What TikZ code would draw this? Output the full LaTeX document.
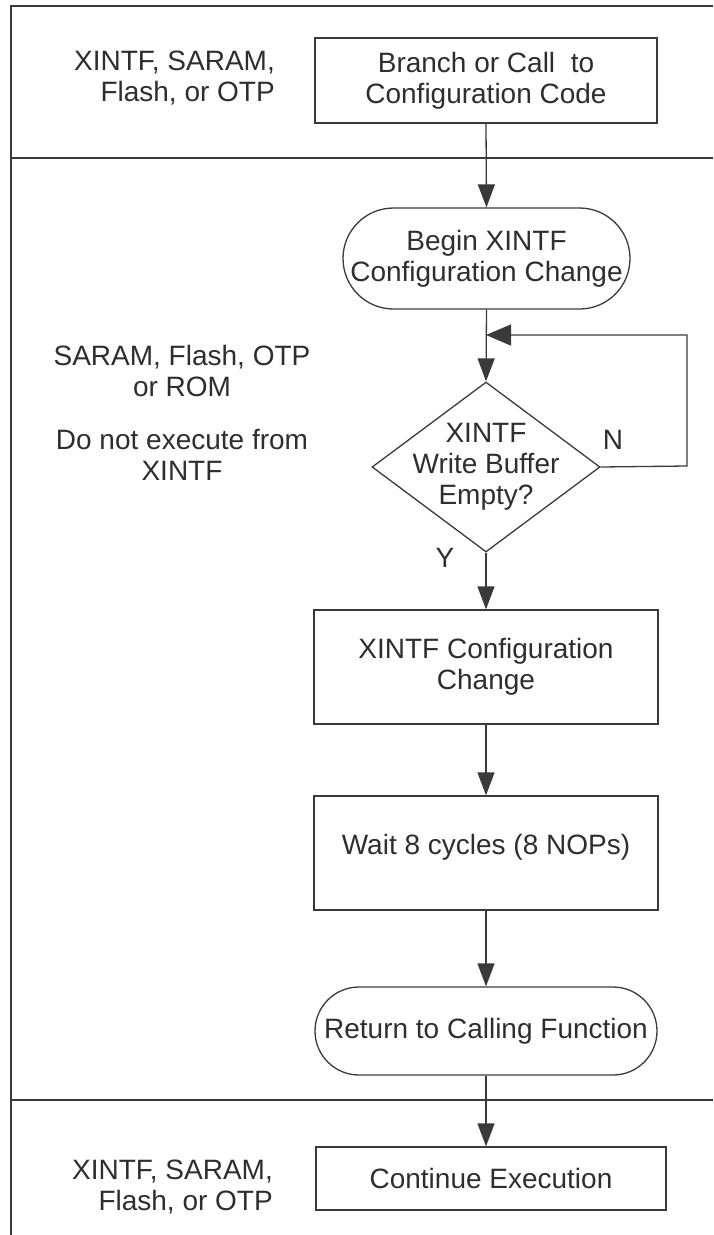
\documentclass[tikz,border=0pt]{standalone}
\usepackage{fontspec}
\setmainfont{Liberation Sans}
\usetikzlibrary{arrows.meta,shapes.geometric}
\definecolor{ln}{HTML}{3A3A3A}
\definecolor{tx}{HTML}{2E2E2E}
\tikzset{
  txt/.style={font=\fontsize{28}{31}\selectfont, text=tx, inner sep=0pt},
  box/.style={txt, draw=ln, line width=1.3pt, rectangle, align=center},
  term/.style={txt, draw=ln, line width=1.3pt, rectangle, align=center},
  dia/.style={draw=ln, line width=1.3pt, diamond, inner sep=0pt},
  lbl/.style={txt},
  frame/.style={draw=ln, line width=1.8pt},
  sep/.style={draw=ln, line width=2.2pt},
  arr/.style={draw=ln, line width=1.3pt, -{Triangle[length=23pt,width=17pt]}},
  arrbig/.style={draw=ln, line width=1.3pt, -{Triangle[length=25pt,width=21pt]}}
}
\begin{document}
\begin{tikzpicture}[x=1pt,y=-1pt]
\useasboundingbox (0,0) rectangle (713,1235);
% frame and lane separators
\coordinate (ftr) at (713,6);
\coordinate (ftl) at (11,6);
\coordinate (fbl) at (11,1235);
\coordinate (s1l) at (11,158);
\coordinate (s1r) at (713,158);
\coordinate (s2l) at (11,1100);
\coordinate (s2r) at (713,1100);
\draw[frame] (ftr) -- (ftl) -- (fbl);
\draw[sep] (s1l) -- (s1r);
\draw[sep] (s2l) -- (s2r);

% lane labels
\node[lbl, anchor=east, align=right] (lab1) at (275,78) {XINTF, SARAM,\\Flash, or OTP};
\node[lbl, align=center] (lab2) at (182,371) {SARAM, Flash, OTP\\or ROM};
\node[lbl, align=center] (lab3) at (182,455) {Do not execute from\\XINTF};
\node[lbl, anchor=east, align=right] (lab4) at (273,1187) {XINTF, SARAM,\\Flash, or OTP};

% flow nodes
\node[box, minimum width=342pt, minimum height=85pt] (b1) at (486,80.5) {Branch or Call\ \ to\\Configuration Code};
\node[term, minimum width=287pt, minimum height=101pt, rounded corners=50.5pt] (t1) at (486.5,258.5) {Begin XINTF\\Configuration Change};
\node[dia, minimum width=228pt, minimum height=170pt] (d) at (486,467) {};
\node[lbl, align=center] (dt) at (d.center) {XINTF\\Write Buffer\\Empty?};
\node[box, minimum width=344pt, minimum height=114pt] (b3) at (486,667) {XINTF Configuration\\Change};
\node[box, minimum width=344pt, minimum height=114pt, text depth=18pt] (b4) at (486,853) {Wait 8 cycles (8 NOPs)};
\node[term, minimum width=342pt, minimum height=88pt, rounded corners=44pt] (t2) at (486,1031) {Return to Calling Function};
\node[box, minimum width=350pt, minimum height=63pt] (b5) at (491,1178.5) {Continue Execution};

% branch labels
\node[lbl] (nl) at (613,440) {N};
\node[lbl] (yl) at (445,558) {Y};

% loop coordinates
\coordinate (lpA) at (687,466);
\coordinate (lpB) at (687,335);
\coordinate (lpJ) at (486,335);

% connectors
\draw[arr] (b1.south) -- (t1.north);
\draw[arr] (t1.south) -- (d.north);
\draw[arrbig] (d.east) -- (lpA) -- (lpB) -- (lpJ);
\draw[arr] (d.south) -- (b3.north);
\draw[arr] (b3.south) -- (b4.north);
\draw[arr] (b4.south) -- (t2.north);
\draw[arr] (t2.south) -- (t2.south |- b5.north);
\end{tikzpicture}
\end{document}
